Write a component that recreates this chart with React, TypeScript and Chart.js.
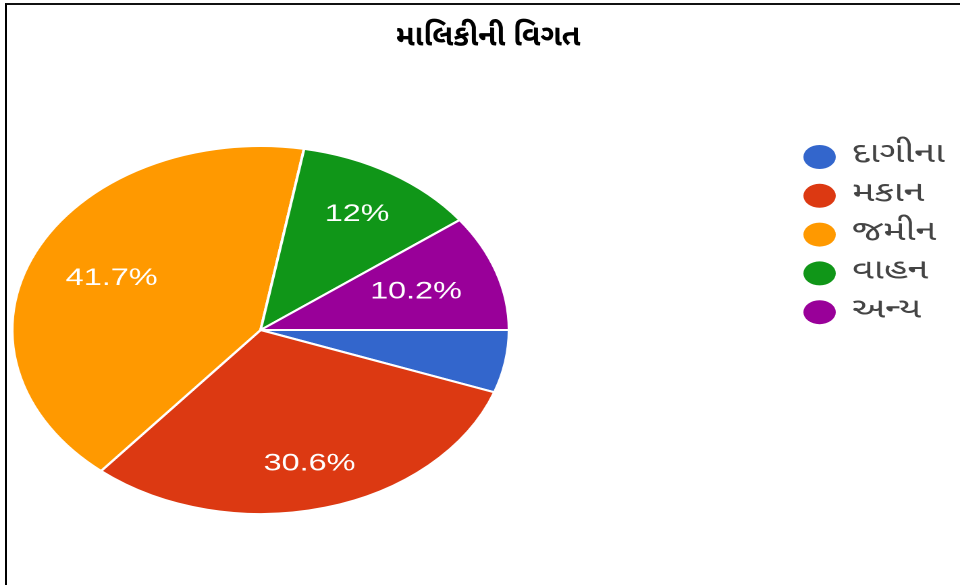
import { useEffect, useRef } from 'react';
import { Chart, registerables, layouts } from 'chart.js';

Chart.register(...registerables);

// ---- data ----
const TITLE = 'માલિકીની વિગત';
const categories = ['દાગીના', 'મકાન', 'જમીન', 'વાહન', 'અન્ય'];
const shares = [5.5, 30.6, 41.7, 12, 10.2];
const colors = ['#3366CC', '#DC3912', '#FF9900', '#109618', '#990099'];

// ---- layout (logical canvas is stretched horizontally to match the source) ----
const PAGE_W = 960;
const PAGE_H = 585;
const LOGICAL_W = 711;
const STRETCH = PAGE_W / LOGICAL_W;
const LEGEND_BOX_W = 333;
const LEGEND_MARK_DX = 229;
const LEGEND_TEXT_DX = 253;
const LEGEND_TOP = 157;
const LEGEND_GAP = 38.8;
const LEGEND_R = 12;
const TITLE_Y = 40;
const TITLE_DX = 6;
const GUJ_FONT = '"Noto Sans Gujarati", "Lohit Gujarati", "Shruti", "Noto Sans", sans-serif';

// title drawn without the horizontal stretch
const titlePlugin = {
  id: 'unstretchedTitle',
  afterDraw(chart: any) {
    const ctx = chart.ctx;
    ctx.save();
    ctx.translate(chart.width / 2 + TITLE_DX, TITLE_Y);
    ctx.scale(1 / STRETCH, 1);
    ctx.font = `bold 30px ${GUJ_FONT}`;
    ctx.fillStyle = '#000';
    ctx.textAlign = 'center';
    ctx.textBaseline = 'middle';
    ctx.fillText(TITLE, 0, 0);
    ctx.restore();
  },
};

const sideLegend = {
  id: 'sideLegend',
  beforeInit(chart: any) {
    const box: any = {
      position: 'right',
      weight: 0,
      fullSize: false,
      options: { stackWeight: 1 },
      left: 0, top: 0, right: 0, bottom: 0, width: 0, height: 0,
      update(_maxW: number, maxH: number) {
        box.width = LEGEND_BOX_W;
        box.height = maxH;
      },
      isHorizontal() { return false; },
      draw() {
        const ctx = chart.ctx;
        const ds = chart.data.datasets[0];
        ctx.save();
        ctx.font = `28px ${GUJ_FONT}`;
        ctx.textBaseline = 'middle';
        ctx.textAlign = 'left';
        (chart.data.labels as string[]).forEach((lab, i) => {
          const cy = LEGEND_TOP + i * LEGEND_GAP;
          ctx.fillStyle = ds.backgroundColor[i];
          ctx.beginPath();
          ctx.arc(box.left + LEGEND_MARK_DX, cy, LEGEND_R, 0, Math.PI * 2);
          ctx.fill();
          ctx.fillStyle = '#444';
          ctx.fillText(lab, box.left + LEGEND_TEXT_DX, cy);
        });
        ctx.restore();
      },
    };
    layouts.addBox(chart, box);
  },
};

const sliceLabels = {
  id: 'sliceLabels',
  afterDatasetsDraw(chart: any) {
    const meta = chart.getDatasetMeta(0);
    const values = chart.data.datasets[0].data as number[];
    const ctx = chart.ctx;
    ctx.save();
    ctx.font = '24px "Liberation Sans", Arial, sans-serif';
    ctx.fillStyle = '#ffffff';
    ctx.textAlign = 'center';
    ctx.textBaseline = 'middle';
    meta.data.forEach((arc: any, i: number) => {
      const v = values[i];
      if (v < 6) return;
      const text = `${v}%`;
      const p = arc.getProps(['x', 'y', 'startAngle', 'endAngle', 'outerRadius'], true);
      const mid = (p.startAngle + p.endAngle) / 2;
      const hw = ctx.measureText(text).width / 2;
      const hh = 9;
      const c = Math.cos(mid);
      const s = Math.sin(mid);
      const d = p.outerRadius * 0.85 - (hw * Math.abs(c) + hh * Math.abs(s));
      ctx.fillText(text, p.x + c * d, p.y + s * d);
    });
    ctx.restore();
  },
};

export default function App() {
  const canvasRef = useRef<HTMLCanvasElement | null>(null);

  useEffect(() => {
    if (!canvasRef.current) return;
    const chart = new Chart(canvasRef.current, {
      type: 'pie',
      data: {
        labels: categories,
        datasets: [
          {
            data: shares,
            backgroundColor: colors,
            borderColor: '#ffffff',
            borderWidth: 2,
          },
        ],
      },
      options: {
        responsive: false,
        animation: false,
        devicePixelRatio: 2,
        rotation: 90,
        events: [],
        layout: { padding: { left: 8, right: 0, top: 145, bottom: 70 } },
        plugins: {
          legend: { display: false },
          tooltip: { enabled: false },
          title: { display: false },
        },
      },
      plugins: [sideLegend, sliceLabels, titlePlugin],
    } as any);
    return () => chart.destroy();
  }, []);

  return (
    <div style={{ position: 'absolute', left: 0, top: 0, width: PAGE_W, height: PAGE_H, overflow: 'hidden', background: '#fff' }}>
      <div style={{ width: LOGICAL_W, height: PAGE_H, transform: `scaleX(${STRETCH})`, transformOrigin: '0 0' }}>
        <canvas ref={canvasRef} width={LOGICAL_W} height={PAGE_H} />
      </div>
      <div
        style={{
          position: 'absolute',
          left: 5,
          top: 3,
          right: 0,
          bottom: 0,
          borderTop: '2px solid #111',
          borderLeft: '2px solid #000',
          pointerEvents: 'none',
        }}
      />
    </div>
  );
}
